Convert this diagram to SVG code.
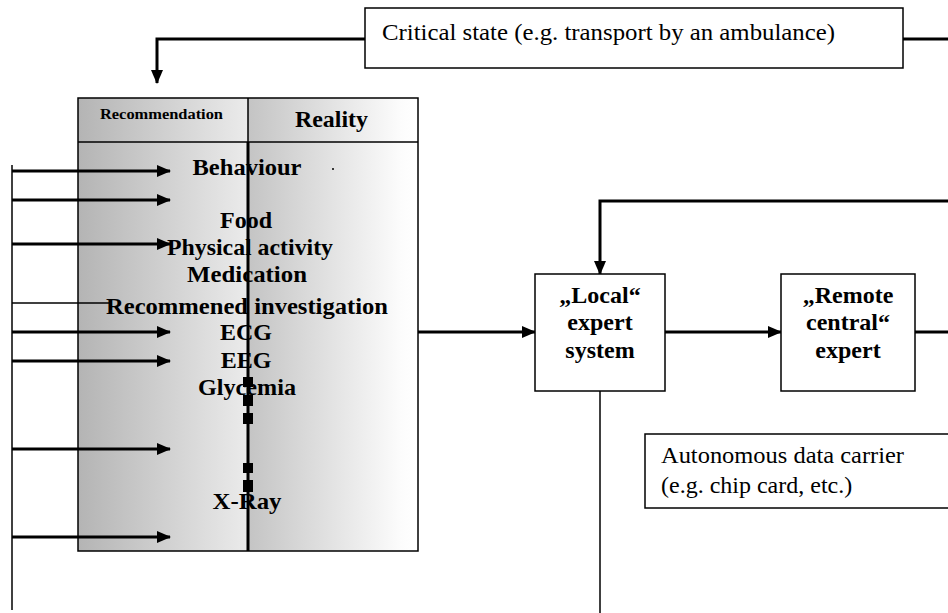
<svg xmlns="http://www.w3.org/2000/svg" width="948" height="613" viewBox="0 0 948 613">
  <defs>
    <marker id="ah" markerUnits="userSpaceOnUse" markerWidth="14" markerHeight="12" refX="13" refY="6" orient="auto">
      <path d="M0,0 L14,6 L0,12 Z" fill="#000"/>
    </marker>
    <linearGradient id="gL" x1="0" y1="0" x2="1" y2="0">
      <stop offset="0" stop-color="#b4b4b4"/>
      <stop offset="1" stop-color="#ebebeb"/>
    </linearGradient>
    <linearGradient id="gR" x1="0" y1="0" x2="1" y2="0">
      <stop offset="0" stop-color="#c4c4c4"/>
      <stop offset="0.9" stop-color="#fcfcfc"/>
      <stop offset="1" stop-color="#ffffff"/>
    </linearGradient>
    <style>
      .box { fill: #fff; stroke: #000; stroke-width: 1.5; }
      .thick { fill: none; stroke: #000; stroke-width: 3; }
      .thin { fill: none; stroke: #000; stroke-width: 1.5; }
      .t { font-family: "Liberation Serif", "Times New Roman", serif; font-size: 24px; fill: #000; }
      .b { font-family: "Liberation Serif", "Times New Roman", serif; font-size: 24px; font-weight: bold; fill: #000; }
      .mid { text-anchor: middle; }
    </style>
  </defs>
  <rect width="948" height="613" fill="#fff"/>

  <g id="table">
    <rect x="78" y="98" width="170" height="453" fill="url(#gL)"/>
    <rect x="248" y="98" width="170" height="453" fill="url(#gR)"/>
    <rect x="78" y="98" width="340" height="453" fill="none" stroke="#000" stroke-width="1.5"/>
    <line x1="78" y1="142" x2="418" y2="142" stroke="#000" stroke-width="1.5"/>
    <line x1="248" y1="98" x2="248" y2="142" stroke="#000" stroke-width="1.5"/>
    <text class="b" x="100" y="119" style="font-size:14px" textLength="123" lengthAdjust="spacingAndGlyphs">Recommendation</text>
    <text class="b" x="295" y="127" textLength="73" lengthAdjust="spacingAndGlyphs">Reality</text>
  </g>

  <g id="connectors">
    <line class="thin" x1="12" y1="165" x2="12" y2="610" stroke-width="2"/>
    <line class="thick" x1="12" y1="171" x2="170" y2="171" marker-end="url(#ah)"/>
    <line class="thick" x1="12" y1="200" x2="170" y2="200" marker-end="url(#ah)"/>
    <line class="thick" x1="12" y1="244" x2="170" y2="244" marker-end="url(#ah)"/>
    <line class="thin" x1="12" y1="303" x2="110" y2="303"/>
    <line class="thick" x1="12" y1="332" x2="170" y2="332" marker-end="url(#ah)"/>
    <line class="thick" x1="12" y1="361" x2="170" y2="361" marker-end="url(#ah)"/>
    <line class="thick" x1="12" y1="449" x2="170" y2="449" marker-end="url(#ah)"/>
    <line class="thick" x1="12" y1="537" x2="170" y2="537" marker-end="url(#ah)"/>
    <polyline class="thick" points="365,39 157,39 157,83" marker-end="url(#ah)"/>
    <line class="thick" x1="903" y1="39" x2="948" y2="39"/>
    <polyline class="thick" points="950,201 600,201 600,274" marker-end="url(#ah)"/>
    <line class="thick" x1="418" y1="332" x2="535" y2="332" marker-end="url(#ah)"/>
    <line class="thick" x1="665" y1="332" x2="781" y2="332" marker-end="url(#ah)"/>
    <line class="thick" x1="915" y1="332" x2="950" y2="332"/>
    <line class="thin" x1="600" y1="391" x2="600" y2="613"/>
  </g>

  <g id="table-items">
    <text class="b mid" x="247" y="175" textLength="109" lengthAdjust="spacingAndGlyphs">Behaviour</text>
    <circle cx="333" cy="169" r="1" fill="#000"/>
    <text class="b mid" x="246" y="228">Food</text>
    <text class="b mid" x="250" y="255" textLength="166" lengthAdjust="spacingAndGlyphs">Physical activity</text>
    <text class="b mid" x="247" y="282" textLength="120" lengthAdjust="spacingAndGlyphs">Medication</text>
    <text class="b mid" x="247" y="314" textLength="282" lengthAdjust="spacingAndGlyphs">Recommened investigation</text>
    <text class="b mid" x="246" y="340">ECG</text>
    <text class="b mid" x="246" y="368">EEG</text>
    <text class="b mid" x="247" y="395" textLength="98" lengthAdjust="spacingAndGlyphs">Glycemia</text>
    <text class="b mid" x="247" y="509" textLength="69" lengthAdjust="spacingAndGlyphs">X-Ray</text>
    <line x1="248" y1="142" x2="248" y2="551" stroke="#000" stroke-width="3"/>
    <rect x="243" y="377" width="10" height="10" fill="#000"/>
    <rect x="243" y="395" width="10" height="11" fill="#000"/>
    <rect x="243" y="413" width="10" height="11" fill="#000"/>
    <rect x="243" y="463" width="10" height="10" fill="#000"/>
    <rect x="243" y="480" width="10" height="12" fill="#000"/>
  </g>

  <g id="critical">
    <rect class="box" x="365" y="8" width="538" height="60"/>
    <text class="t" x="382" y="40" textLength="453" lengthAdjust="spacingAndGlyphs">Critical state (e.g. transport by an ambulance)</text>
  </g>

  <g id="local">
    <rect class="box" x="535" y="274" width="130" height="117"/>
    <text class="b mid" x="600" y="303">„Local“</text>
    <text class="b mid" x="600" y="330">expert</text>
    <text class="b mid" x="600" y="358">system</text>
  </g>

  <g id="remote">
    <rect class="box" x="781" y="274" width="134" height="117"/>
    <text class="b mid" x="848" y="303">„Remote</text>
    <text class="b mid" x="848" y="330">central“</text>
    <text class="b mid" x="848" y="358">expert</text>
  </g>

  <g id="carrier">
    <rect class="box" x="645" y="434" width="310" height="74"/>
    <text class="t" x="661" y="463" textLength="243" lengthAdjust="spacingAndGlyphs">Autonomous data carrier</text>
    <text class="t" x="661" y="493">(e.g. chip card, etc.)</text>
  </g>
</svg>
